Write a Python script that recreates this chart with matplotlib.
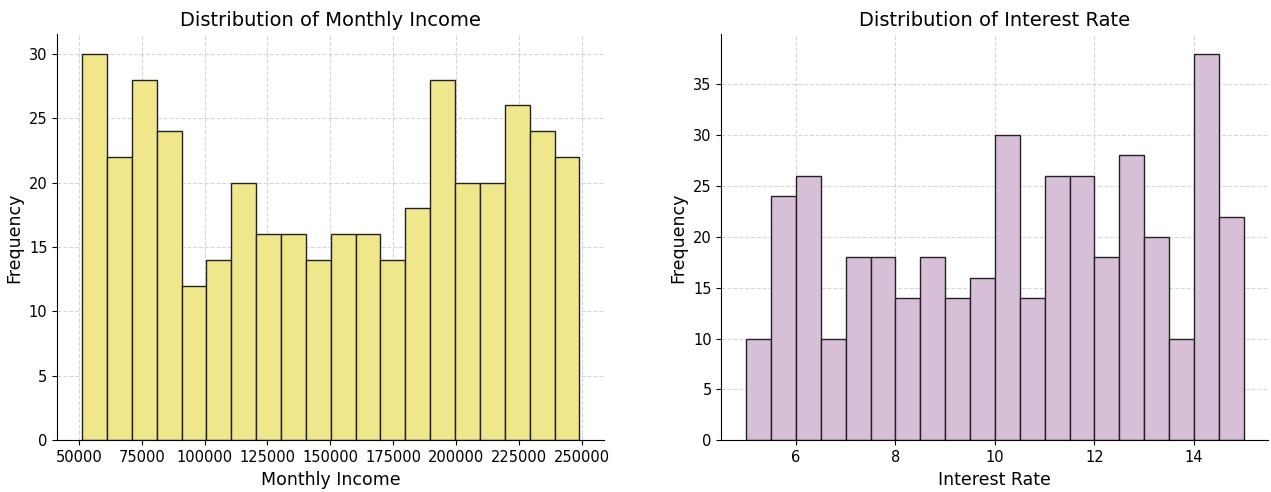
import numpy as np
import matplotlib.pyplot as plt

# histogram counts (20 bins each)
income_counts = [30, 22, 28, 24, 12, 14, 20, 16, 16, 14,
                 16, 16, 14, 18, 28, 20, 20, 26, 24, 22]
income_min, income_max = 51300, 249000

rate_counts = [10, 24, 26, 10, 18, 18, 14, 18, 14, 16,
               30, 14, 26, 26, 18, 28, 20, 10, 38, 22]
rate_min, rate_max = 5.0, 15.0


def draw_hist(ax, counts, lo, hi, color, title, xlabel):
    edges = np.linspace(lo, hi, len(counts) + 1)
    centers = (edges[:-1] + edges[1:]) / 2
    ax.hist(centers, bins=edges, weights=counts, color=color,
            edgecolor='#222222', linewidth=1.0)
    ax.set_title(title, fontsize=14)
    ax.set_xlabel(xlabel, fontsize=12.5)
    ax.set_ylabel('Frequency', fontsize=12.5)
    ax.grid(True, linestyle='--', alpha=0.5)
    ax.set_axisbelow(True)
    ax.spines['top'].set_visible(False)
    ax.spines['right'].set_visible(False)
    ax.tick_params(labelsize=10.5)


fig, axes = plt.subplots(1, 2, figsize=(12.71, 4.92), dpi=100)
draw_hist(axes[0], income_counts, income_min, income_max, 'khaki',
          'Distribution of Monthly Income', 'Monthly Income')
draw_hist(axes[1], rate_counts, rate_min, rate_max, 'thistle',
          'Distribution of Interest Rate', 'Interest Rate')
plt.subplots_adjust(left=0.045, right=0.998, top=0.93, bottom=0.105, wspace=0.214)
fig.savefig('out.png')
